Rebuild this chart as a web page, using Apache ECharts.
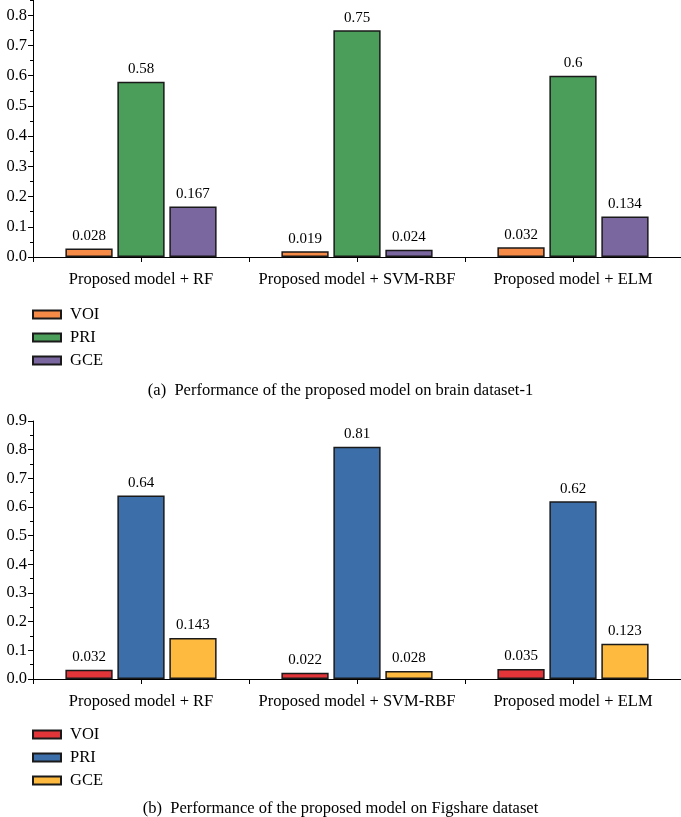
<!DOCTYPE html>
<html>
<head>
<meta charset="utf-8">
<script src="https://cdn.jsdelivr.net/npm/echarts@6/dist/echarts.min.js"></script>
<style>
html,body{margin:0;padding:0;background:#fff;overflow:hidden;}
#c{position:absolute;left:0;top:-15px;width:681px;height:832px;}
</style>
</head>
<body>
<div id="c"></div>
<script>
const categories = ['Proposed model + RF', 'Proposed model + SVM-RBF', 'Proposed model + ELM'];
const seriesNames = ['VOI', 'PRI', 'GCE'];
const brainVOI = [0.028, 0.019, 0.032];
const brainPRI = [0.58, 0.75, 0.6];
const brainGCE = [0.167, 0.024, 0.134];
const figVOI = [0.032, 0.022, 0.035];
const figPRI = [0.64, 0.81, 0.62];
const figGCE = [0.143, 0.028, 0.123];
const yTicks = [0, 0.1, 0.2, 0.3, 0.4, 0.5, 0.6, 0.7, 0.8, 0.9];
const captionA = '(a)  Performance of the proposed model on brain dataset-1';
const captionB = '(b)  Performance of the proposed model on Figshare dataset';

const FONT = '"Liberation Serif", "DejaVu Serif", serif';
const FS = 16.5;
const FS_LBL = 15;
const topColors = ['#F68B47', '#4A9E59', '#7A67A0'];
const botColors = ['#E2353A', '#3C6FAA', '#FDBA3F'];

function yAxis(gi) {
  return {
    type: 'value', gridIndex: gi, min: yTicks[0], max: yTicks[yTicks.length - 1], interval: 0.1,
    axisLine: {show: true, lineStyle: {color: '#000', width: 1}},
    axisTick: {show: true, length: 5, lineStyle: {color: '#000'}},
    minorTick: {show: true, splitNumber: 2, length: 3, lineStyle: {color: '#000'}},
    splitLine: {show: false},
    axisLabel: {color: '#000', fontFamily: FONT, fontSize: FS, margin: 6,
      formatter: v => v.toFixed(1)}
  };
}
function xAxisMain(gi) {
  return {
    type: 'category', gridIndex: gi, data: categories,
    axisLine: {show: true, lineStyle: {color: '#000', width: 1}},
    axisTick: {show: true, length: 5, lineStyle: {color: '#000'}},
    axisLabel: {color: '#000', fontFamily: FONT, fontSize: FS, margin: 14, interval: 0}
  };
}
function xAxisCenter(gi) {
  return {
    type: 'category', gridIndex: gi, data: categories, position: 'bottom',
    axisLine: {show: false},
    axisTick: {show: true, alignWithLabel: true, interval: 0, length: 5, lineStyle: {color: '#000'}},
    axisLabel: {show: false}
  };
}
function bar(name, data, color, gi, xi) {
  return {
    type: 'bar', name: name, data: data, xAxisIndex: xi, yAxisIndex: gi,
    barGap: '10%', barCategoryGap: '30%',
    itemStyle: {color: color, borderColor: '#1a1a1a', borderWidth: 1.5},
    label: {show: true, position: 'top', distance: 5, color: '#000', fontFamily: FONT, fontSize: FS_LBL},
    emphasis: {disabled: true}
  };
}
function legend(names, top) {
  return {
    orient: 'vertical', left: 32, top: top, padding: 0, itemWidth: 28, itemHeight: 8, itemGap: 6,
    data: names, icon: 'rect',
    formatter: n => n.trim(),
    textStyle: {color: '#000', fontFamily: FONT, fontSize: FS, padding: [0, 0, 0, 4]},
    selectedMode: false
  };
}

const option = {
  animation: false,
  backgroundColor: '#fff',
  textStyle: {fontFamily: FONT},
  title: [
    {text: captionA, left: 'center', top: 397, padding: 0, textStyle: {color: '#000', fontFamily: FONT, fontSize: FS, fontWeight: 'normal'}},
    {text: captionB, left: 'center', top: 815, padding: 0, textStyle: {color: '#000', fontFamily: FONT, fontSize: FS, fontWeight: 'normal'}}
  ],
  legend: [
    legend(seriesNames, 321),
    legend(seriesNames.map(n => n + ' '), 741)
  ],
  grid: [
    {left: 33, right: 0, top: 0, height: 272, outerBoundsMode: 'none'},
    {left: 33, right: 0, top: 436, height: 258, outerBoundsMode: 'none'}
  ],
  xAxis: [xAxisMain(0), xAxisCenter(0), xAxisMain(1), xAxisCenter(1)],
  yAxis: [yAxis(0), yAxis(1)],
  series: [
    bar(seriesNames[0], brainVOI, topColors[0], 0, 0),
    bar(seriesNames[1], brainPRI, topColors[1], 0, 0),
    bar(seriesNames[2], brainGCE, topColors[2], 0, 0),
    bar(seriesNames[0] + ' ', figVOI, botColors[0], 1, 2),
    bar(seriesNames[1] + ' ', figPRI, botColors[1], 1, 2),
    bar(seriesNames[2] + ' ', figGCE, botColors[2], 1, 2)
  ]
};
const chart = echarts.init(document.getElementById('c'), null, {renderer: 'canvas'});
chart.setOption(option);
</script>
</body>
</html>
